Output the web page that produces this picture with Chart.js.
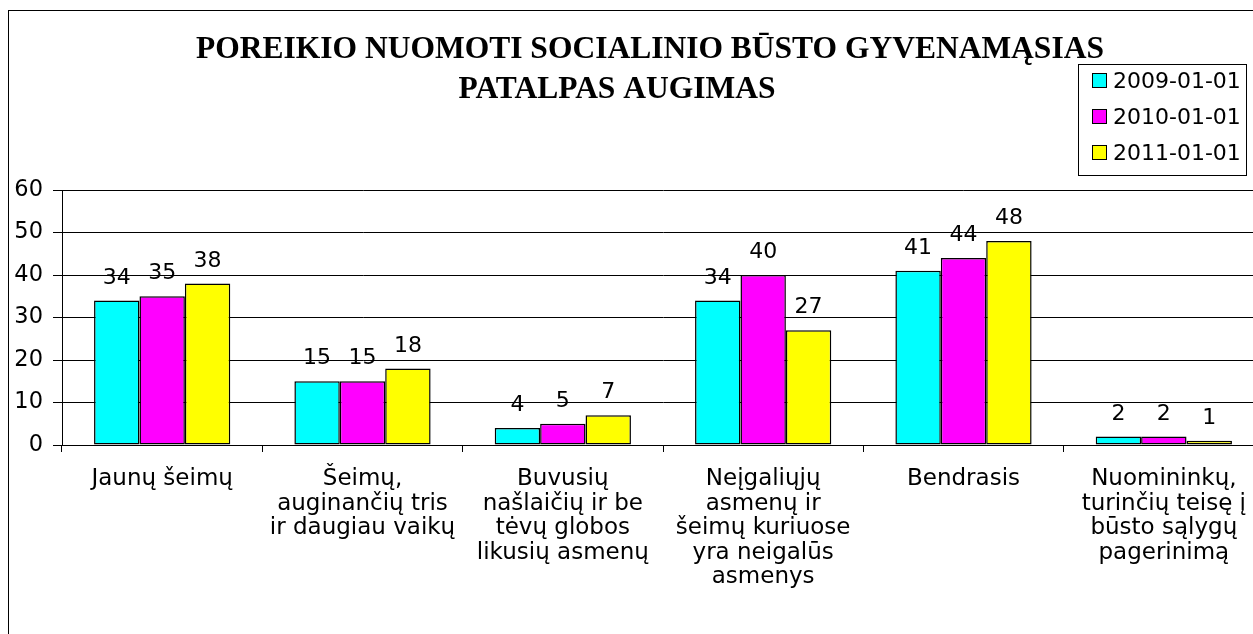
<!DOCTYPE html>
<html>
<head>
<meta charset="utf-8">
<script src="https://cdn.jsdelivr.net/npm/chart.js@4"></script>
<style>
  body { margin: 0; overflow: hidden; background: #fff; }
</style>
</head>
<body>
<canvas id="chart" width="1270" height="634"></canvas>
<script>
let categories = [
  ['Jaunų šeimų'],
  ['Šeimų,', 'auginančių tris', 'ir daugiau vaikų'],
  ['Buvusių', 'našlaičių ir be', 'tėvų globos', 'likusių asmenų'],
  ['Neįgaliųjų', 'asmenų ir', 'šeimų kuriuose', 'yra neigalūs', 'asmenys'],
  ['Bendrasis'],
  ['Nuomininkų,', 'turinčių teisę į', 'būsto sąlygų', 'pagerinimą']
]
let seriesNames = ['2009-01-01', '2010-01-01', '2011-01-01']
let values2009 = [34, 15, 4, 34, 41, 2]
let values2010 = [35, 15, 5, 40, 44, 2]
let values2011 = [38, 18, 7, 27, 48, 1]
let yTicks = [0, 10, 20, 30, 40, 50, 60]
let titleLines = ['POREIKIO NUOMOTI SOCIALINIO BŪSTO GYVENAMĄSIAS', 'PATALPAS AUGIMAS']

let sansFont = '"DejaVu Sans", sans-serif'

// frame + title + boxed legend, drawn straight on the canvas
let decorations = {
  id: 'decorations',
  beforeDraw(chart) {
    let ctx = chart.ctx
    ctx.save()
    ctx.fillStyle = '#fff'
    ctx.fillRect(0, 0, chart.width, chart.height)
    ctx.strokeStyle = '#000'
    ctx.lineWidth = 1
    ctx.strokeRect(8.5, 10.5, 1400, 800)
    ctx.restore()
  },
  afterDraw(chart) {
    let ctx = chart.ctx
    ctx.save()
    ctx.fillStyle = '#000'
    ctx.font = 'bold 31.5px "Liberation Serif", serif'
    ctx.textAlign = 'center'
    ctx.textBaseline = 'alphabetic'
    ctx.fillText(titleLines[0], 650, 58)
    ctx.fillText(titleLines[1], 617, 98)

    ctx.fillStyle = '#fff'
    ctx.fillRect(1078.5, 64.5, 168, 111)
    ctx.strokeStyle = '#000'
    ctx.lineWidth = 1
    ctx.strokeRect(1078.5, 64.5, 168, 111)
    ctx.font = '22px ' + sansFont
    ctx.textAlign = 'left'
    ctx.textBaseline = 'middle'
    chart.data.datasets.forEach((ds, i) => {
      let cy = 81 + i * 36
      ctx.fillStyle = ds.backgroundColor
      ctx.fillRect(1092.5, cy - 7.5, 14, 14)
      ctx.strokeRect(1092.5, cy - 7.5, 14, 14)
      ctx.fillStyle = '#000'
      ctx.fillText(ds.label, 1113, cy + 1)
    })
    ctx.restore()
  }
}

let valueLabels = {
  id: 'valueLabels',
  afterDatasetsDraw(chart) {
    let ctx = chart.ctx
    ctx.save()
    ctx.font = '22px ' + sansFont
    ctx.fillStyle = '#000'
    ctx.textAlign = 'center'
    ctx.textBaseline = 'alphabetic'
    chart.data.datasets.forEach((ds, i) => {
      chart.getDatasetMeta(i).data.forEach((bar, j) => {
        ctx.fillText(ds.data[j], bar.x, bar.y - 17)
      })
    })
    ctx.restore()
  }
}

let barStyle = { borderColor: '#000', borderWidth: 1.5, borderSkipped: false, barPercentage: 1, categoryPercentage: 0.68 }

new Chart(document.getElementById('chart').getContext('2d'), {
  type: 'bar',
  data: {
    labels: categories,
    datasets: [
      { label: seriesNames[0], data: values2009, backgroundColor: '#00FFFF', ...barStyle },
      { label: seriesNames[1], data: values2010, backgroundColor: '#FF00FF', ...barStyle },
      { label: seriesNames[2], data: values2011, backgroundColor: '#FFFF00', ...barStyle }
    ]
  },
  options: {
    responsive: false,
    animation: false,
    layout: { padding: { top: 190, right: 6, left: 0, bottom: 0 } },
    plugins: {
      legend: { display: false },
      title: { display: false },
      tooltip: { enabled: false }
    },
    scales: {
      x: {
        offset: true,
        grid: { drawOnChartArea: false, color: '#000', tickLength: 7 },
        border: { color: '#000', width: 1 },
        ticks: {
          color: '#000',
          font: { family: sansFont, size: 23, lineHeight: 1.065 },
          padding: 15,
          maxRotation: 0,
          autoSkip: false
        },
        afterFit: s => { s.height = 189 }
      },
      y: {
        min: yTicks[0],
        max: yTicks[yTicks.length - 1],
        afterBuildTicks: s => { s.ticks = yTicks.map(v => ({ value: v })) },
        grid: { color: '#000', lineWidth: 1, tickLength: 9 },
        border: { color: '#000', width: 1 },
        ticks: {
          color: '#000',
          font: { family: sansFont, size: 22.5 },
          padding: 10
        },
        afterFit: s => { s.width = 62 }
      }
    }
  },
  plugins: [decorations, valueLabels]
})
</script>
</body>
</html>
